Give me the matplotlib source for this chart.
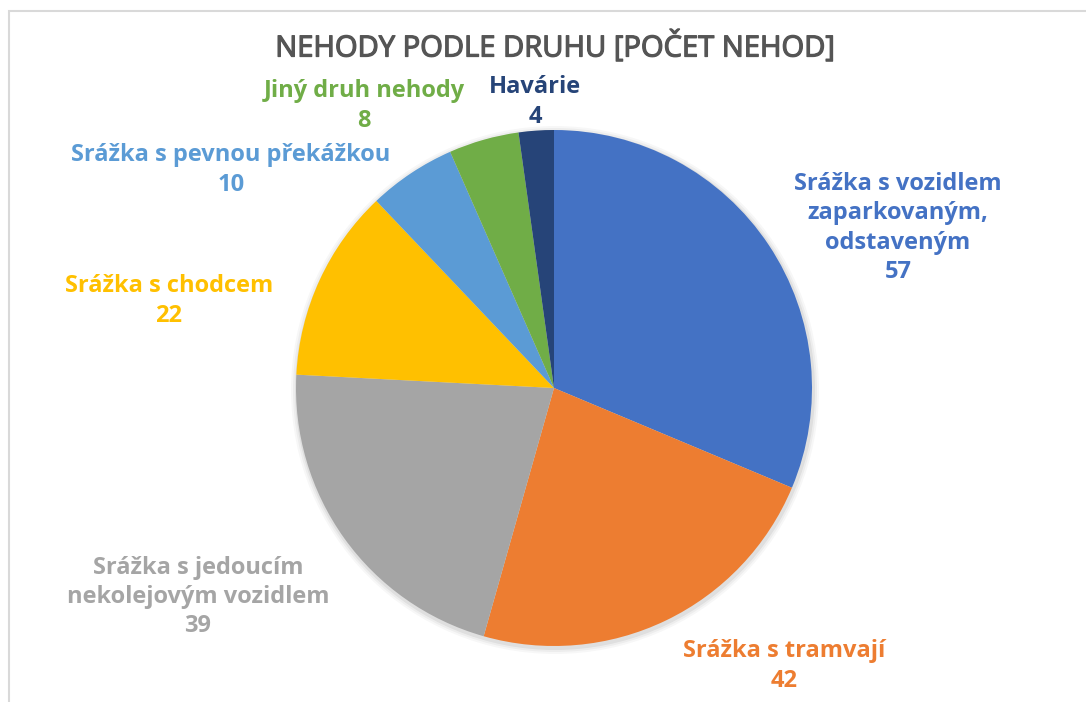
import matplotlib
matplotlib.use("Agg")
import matplotlib.pyplot as plt
import matplotlib.patheffects as pe
from matplotlib.patches import Circle, Rectangle

plt.rcParams['font.family'] = ['Open Sans', 'DejaVu Sans']

# ---- data ----
categories = ["Srážka s vozidlem\nzaparkovaným,\nodstaveným",
              "Srážka s tramvají",
              "Srážka s jedoucím\nnekolejovým vozidlem",
              "Srážka s chodcem",
              "Srážka s pevnou překážkou",
              "Jiný druh nehody",
              "Havárie"]
values = [57, 42, 39, 22, 10, 8, 4]
colors = ["#4472C4", "#ED7D31", "#A5A5A5", "#FFC000", "#5B9BD5", "#70AD47", "#264478"]
title = "NEHODY PODLE DRUHU [POČET NEHOD]"

# label anchor positions (pixel coords, from top-left)
label_pos = [(898, 228), (784, 666), (198, 597), (169, 301), (231, 170), (364, 106), (535, 102)]

W, H = 1086, 702
fig = plt.figure(figsize=(W / 100, H / 100), dpi=100)
ax = fig.add_axes([0, 0, 1, 1])
ax.set_xlim(0, W)
ax.set_ylim(0, H)
ax.set_aspect('equal')
ax.axis('off')

# outer border of chart area
ax.add_patch(Rectangle((9, -20), W + 20, H - 11 + 20, fill=False,
                       edgecolor="#D9D9D9", linewidth=1.5))

cx, cy, r = 554, H - 388, 258

# soft shadow
for k, a in [(6, 0.03), (4, 0.04), (2, 0.06)]:
    ax.add_patch(Circle((cx + 1, cy - 2), r + k, color="#000000", alpha=a, lw=0))

ax.pie(values, colors=colors, startangle=90, counterclock=False,
       center=(cx, cy), radius=r, frame=True,
       wedgeprops=dict(linewidth=0))
ax.set_xlim(0, W)
ax.set_ylim(0, H)
ax.axis('off')

for cat, v, col, (x, y) in zip(categories, values, colors, label_pos):
    ax.text(x, H - y, f"{cat}\n{v}", ha="center", va="center", color=col,
            fontsize=17, fontweight="bold", linespacing=1.28)

ax.text(555, H - 47, title, ha="center", va="center", color="#555555",
        fontsize=21,
        path_effects=[pe.withStroke(linewidth=0.9, foreground="#555555")])

fig.savefig("out.png", dpi=100)
